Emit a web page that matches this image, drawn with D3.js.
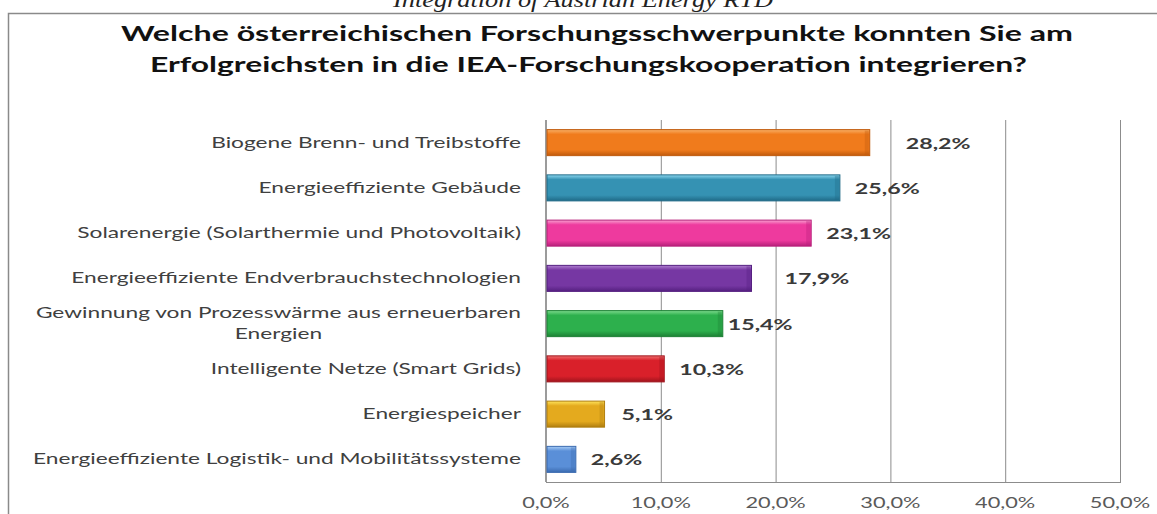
<!DOCTYPE html>
<html><head><meta charset="utf-8">
<script src="https://cdn.jsdelivr.net/npm/d3@7/dist/d3.min.js"></script>
<style>body{margin:0;background:#fff;}svg{display:block;}</style>
</head><body>
<svg id="c" width="1157" height="514"></svg>
<script>
const subtitle = "Integration of Austrian Energy RTD";
const titleLines = ["Welche österreichischen Forschungsschwerpunkte konnten Sie am",
                    "Erfolgreichsten in die IEA-Forschungskooperation integrieren?"];
const categories = [
  ["Biogene Brenn- und Treibstoffe"],
  ["Energieeffiziente Gebäude"],
  ["Solarenergie (Solarthermie und Photovoltaik)"],
  ["Energieeffiziente Endverbrauchstechnologien"],
  ["Gewinnung von Prozesswärme aus erneuerbaren", "Energien"],
  ["Intelligente Netze (Smart Grids)"],
  ["Energiespeicher"],
  ["Energieeffiziente Logistik- und Mobilitätssysteme"]
];
const values = [28.2, 25.6, 23.1, 17.9, 15.4, 10.3, 5.1, 2.6];
const xTicks = [0, 10, 20, 30, 40, 50];
// styling (not data)
const barColors = [
  ["#F9B067","#F07B1C","#C05A0C"],
  ["#8ED8F0","#3592B3","#1F6A87"],
  ["#F8A0D0","#EE3A9E","#B7207A"],
  ["#B080D0","#7637A3","#552080"],
  ["#7FDC8F","#2DB04D","#1D8034"],
  ["#F07070","#D9202A","#A0141C"],
  ["#FFE45C","#E4AA1E","#B07E10"],
  ["#A8CDF6","#5A8FD8","#3B6BB0"]
];
const labelNudge = [36, 15, 15, 33, 5, 15, 17, 15];

const svg = d3.select("#c");
const M = {left: 546, right: 1120, top: 120, bottom: 482};
const locale = d3.formatLocale({decimal: ",", thousands: ".", grouping: [3], currency: ["", "€"]});
const fmt = d => locale.format(".1f")(d) + "%";

const x = d3.scaleLinear().domain([0, 50]).range([M.left, M.right]);
const y = d3.scaleBand().domain(d3.range(categories.length)).range([M.top, M.bottom])
  .paddingInner(0.425).paddingOuter(0.2125);

// frame
svg.append("path").attr("d", `M8.5,514 V13.5 H1157`).attr("fill","none")
  .attr("stroke","#8a8a8a").attr("stroke-width",1.5);

// subtitle
svg.append("text").attr("x", 393).attr("y", 7)
  .attr("font-family","Liberation Serif").attr("font-style","italic").attr("font-size",21)
  .attr("fill","#222").attr("textLength",380).attr("lengthAdjust","spacingAndGlyphs").text(subtitle);

// title
const tpos = [[121, 41, 952], [150, 72, 877]];
titleLines.forEach((t, i) => {
  svg.append("text").attr("x", tpos[i][0]).attr("y", tpos[i][1])
    .attr("font-family","Lato").attr("font-weight","bold").attr("font-size",20)
    .attr("fill","#111").attr("textLength", tpos[i][2]).attr("lengthAdjust","spacingAndGlyphs").text(t);
});

// gradients
const defs = svg.append("defs");
barColors.forEach((c, i) => {
  const g = defs.append("linearGradient").attr("id","g"+i).attr("x1",0).attr("y1",0).attr("x2",0).attr("y2",1);
  g.append("stop").attr("offset","0%").attr("stop-color",c[0]);
  g.append("stop").attr("offset","18%").attr("stop-color",c[1]);
  g.append("stop").attr("offset","78%").attr("stop-color",c[1]);
  g.append("stop").attr("offset","100%").attr("stop-color",c[2]);
});

// gridlines
svg.append("g").selectAll("line").data(xTicks.slice(1)).join("line")
  .attr("x1", d => x(d) + 0.5).attr("x2", d => x(d) + 0.5)
  .attr("y1", M.top).attr("y2", M.bottom)
  .attr("stroke","#8c8c8c").attr("stroke-width",1);
// axes lines
svg.append("line").attr("x1", x(0)).attr("x2", x(0)).attr("y1", M.top).attr("y2", M.bottom)
  .attr("stroke","#7a7a7a").attr("stroke-width",1.5);
svg.append("line").attr("x1", x(0)).attr("x2", x(50)+1).attr("y1", M.bottom + 0.5).attr("y2", M.bottom + 0.5)
  .attr("stroke","#8c8c8c").attr("stroke-width",1);

// x tick labels
const tickG = svg.append("g");
tickG.selectAll("text").data(xTicks).join("text")
  .attr("x", d => x(d)).attr("y", 508)
  .attr("text-anchor","middle").attr("font-family","Lato").attr("font-size",15)
  .attr("fill","#5a5a5a").text(d => fmt(d))
  .each(function(){ const w = this.getComputedTextLength();
    d3.select(this).attr("textLength", w*1.45).attr("lengthAdjust","spacingAndGlyphs"); });

// bars
svg.append("g").selectAll("rect").data(values).join("rect")
  .attr("x", x(0) + 1).attr("y", (d, i) => y(i))
  .attr("width", d => x(d) - x(0) - 1).attr("height", y.bandwidth())
  .attr("fill", (d, i) => `url(#g${i})`)
  .attr("stroke", (d, i) => barColors[i][2]).attr("stroke-width", 1);
// right-end bevel shading
svg.append("g").selectAll("rect").data(values).join("rect")
  .attr("x", d => x(d) - 5).attr("y", (d, i) => y(i) + 1)
  .attr("width", 4).attr("height", y.bandwidth() - 2)
  .attr("fill", (d, i) => barColors[i][2]).attr("opacity", 0.35);

// data labels
svg.append("g").selectAll("text").data(values).join("text")
  .attr("x", (d, i) => x(d) + labelNudge[i]).attr("y", (d, i) => y(i) + y.bandwidth()/2 + 6)
  .attr("font-family","Lato").attr("font-weight","bold").attr("font-size",16)
  .attr("fill","#3a3a3a").text(d => fmt(d))
  .each(function(){ const w = this.getComputedTextLength();
    d3.select(this).attr("textLength", w*1.45).attr("lengthAdjust","spacingAndGlyphs"); });

// category labels
const catG = svg.append("g");
const catFont = 15;
// measure to find stretch factor so the longest label spans the available width
const tmp = catG.append("text").attr("font-family","Lato").attr("font-size",catFont).text(categories[7][0]);
const kCat = 488 / tmp.node().getComputedTextLength();
tmp.remove();
categories.forEach((lines, i) => {
  const cy = y(i) + y.bandwidth()/2;
  const widths = lines.map(l => {
    const t = catG.append("text").attr("font-family","Lato").attr("font-size",catFont).text(l);
    const w = t.node().getComputedTextLength() * kCat; t.remove(); return w; });
  const blockW = d3.max(widths);
  const lh = 21.5;
  lines.forEach((l, j) => {
    const yy = cy + (j - (lines.length - 1)/2) * lh + 5;
    catG.append("text").attr("x", 521 - blockW/2).attr("y", yy)
      .attr("text-anchor","middle").attr("font-family","Lato").attr("font-size",catFont)
      .attr("fill","#404040").attr("textLength", widths[j]).attr("lengthAdjust","spacingAndGlyphs").text(l);
  });
});
</script>
</body></html>
